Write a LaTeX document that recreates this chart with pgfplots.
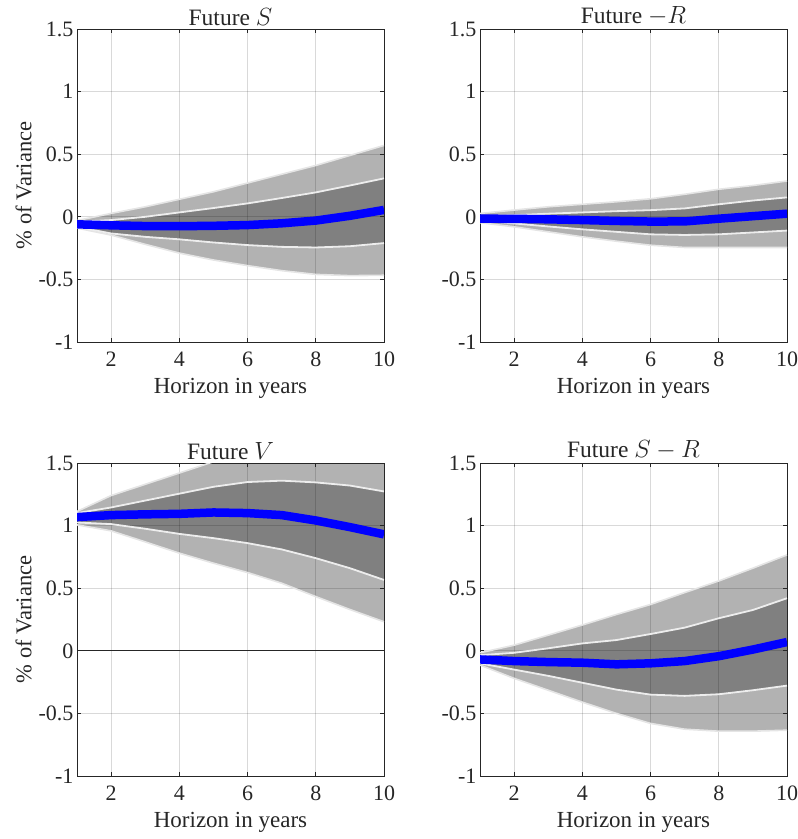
\documentclass[border=0pt]{standalone}
\usepackage{fontspec}
\setmainfont{Liberation Serif}
\usepackage{pgfplots}
\pgfplotsset{compat=1.18}
\usepgfplotslibrary{fillbetween}
\usepackage{pgfplotstable}

\definecolor{outerband}{gray}{0.70}
\definecolor{innerband}{gray}{0.50}
\definecolor{edgeline}{gray}{0.90}
\definecolor{axisgray}{gray}{0.15}

% x, outer lower, inner lower, median, inner upper, outer upper
\pgfplotstableread{
x  ol     il     m      iu     ou
1  -0.09  -0.08  -0.060 -0.040 -0.030
2  -0.146 -0.133 -0.068 -0.026  0.027
3  -0.22  -0.16  -0.074  0.000  0.080
4  -0.29  -0.18  -0.075  0.035  0.140
5  -0.345 -0.205 -0.072  0.070  0.200
6  -0.39  -0.226 -0.066  0.107  0.270
7  -0.43  -0.240 -0.052  0.150  0.340
8  -0.46  -0.245 -0.030  0.195  0.410
9  -0.47  -0.235  0.008  0.250  0.490
10 -0.467 -0.210  0.055  0.307  0.570
}\dataS

\pgfplotstableread{
x  ol     il     m      iu     ou
1  -0.047 -0.030 -0.015  0.005  0.027
2  -0.080 -0.053 -0.016  0.013  0.054
3  -0.120 -0.077 -0.020  0.025  0.080
4  -0.160 -0.100 -0.026  0.035  0.100
5  -0.195 -0.120 -0.033  0.045  0.120
6  -0.227 -0.140 -0.038  0.053  0.144
7  -0.245 -0.145 -0.037  0.067  0.180
8  -0.245 -0.140 -0.015  0.100  0.220
9  -0.245 -0.125  0.005  0.130  0.250
10 -0.245 -0.110  0.025  0.155  0.286
}\dataR

\pgfplotstableread{
x  ol     il     m      iu     ou
1  1.006  1.025  1.068  1.100  1.113
2  0.958  1.012  1.084  1.145  1.240
3  0.870  0.975  1.090  1.200  1.330
4  0.780  0.934  1.094  1.255  1.420
5  0.700  0.900  1.105  1.310  1.510
6  0.625  0.860  1.100  1.348  1.600
7  0.540  0.810  1.084  1.359  1.680
8  0.433  0.740  1.041  1.345  1.750
9  0.330  0.660  0.988  1.320  1.800
10 0.232  0.566  0.930  1.273  1.850
}\dataV

\pgfplotstableread{
x  ol     il     m      iu     ou
1  -0.114 -0.100 -0.069 -0.035 -0.016
2  -0.220 -0.150 -0.082 -0.016  0.045
3  -0.315 -0.200 -0.090  0.020  0.125
4  -0.410 -0.255 -0.095  0.059  0.206
5  -0.500 -0.310 -0.108  0.086  0.290
6  -0.580 -0.350 -0.100  0.134  0.370
7  -0.626 -0.360 -0.082  0.185  0.465
8  -0.642 -0.347 -0.043  0.260  0.558
9  -0.642 -0.315  0.010  0.326  0.660
10 -0.634 -0.278  0.070  0.420  0.766
}\dataSR

\pgfplotsset{
  layers/fanlayers/.define layer set={
    axis background,pre main,axis grid,main,axis ticks,axis lines,axis tick labels,axis descriptions,axis foreground
  }{},
  panel/.style={
    set layers=fanlayers,
    width=307pt, height=313pt, scale only axis,
    anchor=north west,
    xmin=1, xmax=10, ymin=-1, ymax=1.5,
    xtick={2,4,6,8,10}, xticklabels={2,4,6,8,10},
    ytick={-1,-0.5,0,0.5,1,1.5}, yticklabels={-1,-0.5,0,0.5,1,1.5},
    tick align=inside, major tick length=4pt,
    xtick pos=both, ytick pos=both,
    axis line style={axisgray, line width=1pt},
    tick style={axisgray, line width=1pt},
    grid=major, grid style={black, opacity=0.15, line width=0.8pt},
    font=\fontsize{22}{26}\selectfont,
    tick label style={text=axisgray},
    xticklabel style={yshift=-6pt},
    label style={text=axisgray},
    title style={text=axisgray, font=\fontsize{23.5}{27}\selectfont, yshift=-6pt},
    xlabel={Horizon in years},
    xlabel style={at={(axis description cs:0.5,0)}, anchor=center, yshift=-46pt,
                  font=\fontsize{23}{27}\selectfont},
    ylabel style={font=\fontsize{22.5}{27}\selectfont, xshift=0pt},
  },
}

\newcommand{\fanplot}[1]{%
  \addplot[name path=ol, draw=none, forget plot] table[x=x, y=ol] {#1};
  \addplot[name path=ou, draw=none, forget plot] table[x=x, y=ou] {#1};
  \addplot[name path=il, draw=none, forget plot] table[x=x, y=il] {#1};
  \addplot[name path=iu, draw=none, forget plot] table[x=x, y=iu] {#1};
  \addplot[outerband, draw=none] fill between[of=ou and ol];
  \addplot[innerband, draw=none] fill between[of=iu and il];
  \addplot[edgeline, line width=1.6pt] table[x=x, y=ou] {#1};
  \addplot[edgeline, line width=1.6pt] table[x=x, y=ol] {#1};
  \addplot[edgeline!70!white, line width=1.8pt] table[x=x, y=iu] {#1};
  \addplot[edgeline!70!white, line width=1.8pt] table[x=x, y=il] {#1};
  \addplot[blue, line width=8.5pt] table[x=x, y=m] {#1};
}

\begin{document}
\begin{tikzpicture}

\begin{axis}[panel, at={(77pt,-29pt)}, title={Future $S$}, ylabel={\% of Variance}]
\fanplot{\dataS}
\end{axis}

\begin{axis}[panel, at={(480pt,-29pt)}, title={Future $-R$}]
\fanplot{\dataR}
\end{axis}

\begin{axis}[panel, at={(77pt,-463pt)}, title={Future $V$}, ylabel={\% of Variance}]
\addplot[axisgray, line width=1pt] coordinates {(1,0) (10,0)};
\fanplot{\dataV}
\end{axis}

\begin{axis}[panel, at={(480pt,-463pt)}, title={Future $S-R$}]
\fanplot{\dataSR}
\end{axis}

\pgfresetboundingbox
\useasboundingbox (0pt,0pt) rectangle (798pt,-839pt);
\end{tikzpicture}
\end{document}
